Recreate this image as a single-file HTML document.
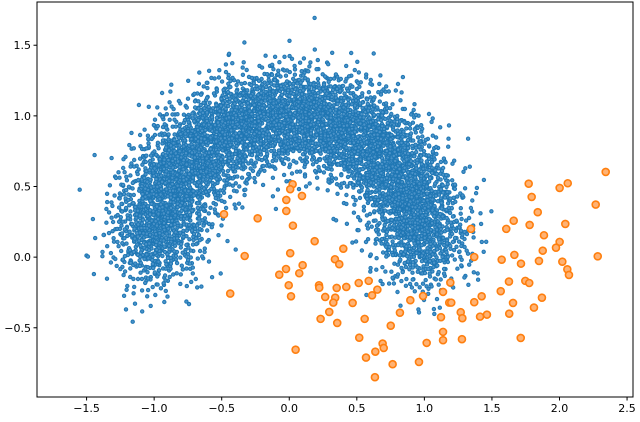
<!DOCTYPE html>
<html><head><meta charset="utf-8">
<style>
html,body{margin:0;padding:0;background:#fff;}
svg text{font-family:"DejaVu Sans","Liberation Sans",sans-serif;font-size:11px;fill:#000;}
</style></head>
<body>
<svg id="chart" width="640" height="417" viewBox="0 0 640 417" xmlns="http://www.w3.org/2000/svg">
<g id="blue"></g>
<g id="orange"></g>
<rect x="37" y="2" width="596" height="395" fill="none" stroke="#000" stroke-width="1"/>
<g id="xaxis"></g>
<g id="yaxis"></g>
</svg>
<script>
const xTicks = [-1.5,-1.0,-0.5,0.0,0.5,1.0,1.5,2.0,2.5];
const yTicks = [-0.5,0.0,0.5,1.0,1.5];
const orangeX = [0.025,0.007,0.094,-0.022,-0.022,-0.483,-0.234,0.027,0.188,0.400,-0.330,0.007,0.338,0.370,0.099,-0.024,-0.074,0.074,-0.004,0.220,0.222,0.351,0.422,0.514,0.588,0.652,0.613,0.013,0.266,0.340,0.326,0.469,-0.437,0.896,0.819,0.296,0.232,0.355,0.558,0.751,0.518,0.691,0.699,0.637,0.047,0.568,0.765,0.634,0.960,
2.342,1.772,2.061,2.001,1.794,2.268,1.839,1.661,1.779,2.043,1.606,1.345,1.885,2.001,1.974,1.876,1.369,1.572,1.666,1.715,1.848,2.021,2.283,2.058,2.070,1.192,1.626,1.747,1.776,1.565,1.138,1.424,1.870,1.184,1.199,1.369,1.656,1.811,1.269,1.281,1.123,1.412,1.463,1.628,1.138,1.138,1.278,1.713,1.017,0.990];
const orangeY = [0.516,0.481,0.433,0.405,0.327,0.304,0.275,0.223,0.113,0.060,0.008,0.028,-0.015,-0.050,-0.057,-0.084,-0.124,-0.114,-0.199,-0.199,-0.216,-0.218,-0.211,-0.183,-0.168,-0.230,-0.270,-0.277,-0.282,-0.287,-0.322,-0.324,-0.258,-0.305,-0.393,-0.388,-0.437,-0.466,-0.437,-0.485,-0.570,-0.612,-0.643,-0.669,-0.655,-0.711,-0.758,-0.850,-0.742,
0.603,0.520,0.523,0.490,0.426,0.372,0.318,0.258,0.228,0.235,0.200,0.200,0.155,0.108,0.067,0.046,0.001,-0.018,0.016,-0.046,-0.027,-0.032,0.006,-0.086,-0.126,-0.180,-0.173,-0.168,-0.183,-0.241,-0.246,-0.277,-0.287,-0.322,-0.322,-0.319,-0.324,-0.357,-0.390,-0.432,-0.425,-0.421,-0.407,-0.400,-0.529,-0.588,-0.581,-0.572,-0.607,-0.275];
// blue moon: arc centre, radius and spread (the dense cloud is drawn from these parameters)
const blueCenter = [0.0, 0.0];
const blueRadius = [1.0];
const blueSpread = [0.175];
const blueCount = [6500];

const NS='http://www.w3.org/2000/svg';
const X0=37,X1=633,Y0=2,Y1=397;
const xmin=-1.867,xmax=2.544,ymin=-0.99,ymax=1.806;
function sx(v){return X0+(v-xmin)/(xmax-xmin)*(X1-X0);}
function sy(v){return Y1-(v-ymin)/(ymax-ymin)*(Y1-Y0);}
function halton(i,b){let f=1,r=0;while(i>0){f/=b;r+=f*(i%b);i=Math.floor(i/b);}return r;}

const gb=document.getElementById('blue');
let html='';
for(let i=1;i<=blueCount[0];i++){
  const t=Math.PI*halton(i+17,7);
  const u1=Math.max(halton(i+17,11),1e-6),u2=halton(i+17,13);
  const m=Math.sqrt(-2*Math.log(u1));
  const nx=m*Math.cos(2*Math.PI*u2)*blueSpread[0], ny=m*Math.sin(2*Math.PI*u2)*blueSpread[0];
  const x=blueCenter[0]+blueRadius[0]*Math.cos(t)+nx, y=blueCenter[1]+blueRadius[0]*Math.sin(t)+ny;
  html+='<circle cx="'+sx(x).toFixed(1)+'" cy="'+sy(y).toFixed(1)+'" r="1.7" fill="#4a92c8" stroke="#1f77b4" stroke-width="1"/>';
}
gb.innerHTML=html;

const go=document.getElementById('orange');
for(let i=0;i<orangeX.length;i++){
  const c=document.createElementNS(NS,'circle');
  
  
  c.setAttribute('cx',sx(orangeX[i]));c.setAttribute('cy',sy(orangeY[i]));
  c.setAttribute('r',3.5);c.setAttribute('fill','#ffb273');c.setAttribute('stroke','#ff7f0e');c.setAttribute('stroke-width',1.6);
  go.appendChild(c);
}

const gx=document.getElementById('xaxis');
xTicks.forEach(v=>{
  const x=sx(v);
  const l=document.createElementNS(NS,'line');
  
  
  l.setAttribute('x1',x);l.setAttribute('x2',x);l.setAttribute('y1',Y1);l.setAttribute('y2',Y1+3.5);l.setAttribute('stroke','#000');
  gx.appendChild(l);
  const t=document.createElementNS(NS,'text');
  
  
  t.setAttribute('x',x);t.setAttribute('y',Y1+15);t.setAttribute('text-anchor','middle');
  t.textContent=(v<0?'\u2212':'')+Math.abs(v).toFixed(1);
  gx.appendChild(t);
});
const gy=document.getElementById('yaxis');
yTicks.forEach(v=>{
  const y=sy(v);
  const l=document.createElementNS(NS,'line');
  
  
  l.setAttribute('x1',X0-3.5);l.setAttribute('x2',X0);l.setAttribute('y1',y);l.setAttribute('y2',y);l.setAttribute('stroke','#000');
  gy.appendChild(l);
  const t=document.createElementNS(NS,'text');
  
  
  t.setAttribute('x',X0-6);t.setAttribute('y',y+4);t.setAttribute('text-anchor','end');
  t.textContent=(v<0?'\u2212':'')+Math.abs(v).toFixed(1);
  gy.appendChild(t);
});
</script>
</body></html>
